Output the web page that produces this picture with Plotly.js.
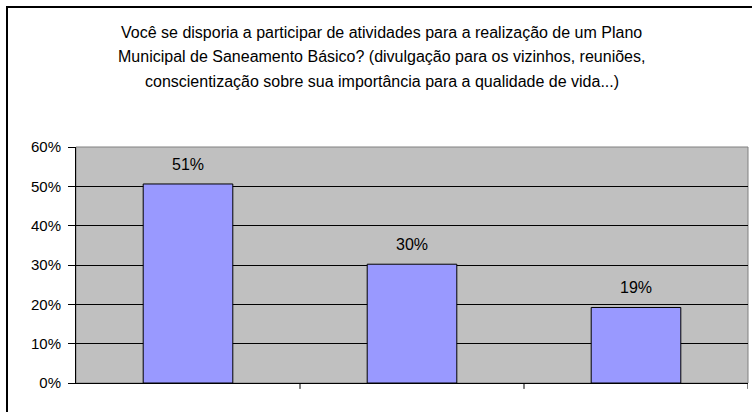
<!DOCTYPE html>
<html><head><meta charset="utf-8">
<script src="https://cdn.plot.ly/plotly-3.0.1.min.js"></script>
<style>body{margin:0;background:#fff}#c{width:752px;height:412px}</style>
</head><body><div id="c"></div>
<script>
const categories = ['Sim', 'Não', 'Talvez'];
const values = [0.506, 0.302, 0.192];
const labels = ['51%', '30%', '19%'];
const yTicks = [0, 0.1, 0.2, 0.3, 0.4, 0.5, 0.6];
const yTickText = ['0%', '10%', '20%', '30%', '40%', '50%', '60%'];
const titleLines = [
  'Você se disporia a participar de atividades para a realização de um Plano',
  'Municipal de Saneamento Básico? (divulgação para os vizinhos, reuniões,',
  'conscientização sobre sua importância para a qualidade de vida...)'
];
const titleLineY = [1.487, 1.383, 1.278];

const FONT = 'Liberation Sans, Arial';
const trace = {
  type: 'bar', x: categories, y: values, width: 0.4,
  marker: {color: '#9999FF', line: {color: '#000', width: 1}},
  hoverinfo: 'skip'
};
const annotations = categories.map((c, i) => ({
  x: c, y: values[i], xref: 'x', yref: 'y', text: labels[i], showarrow: false,
  yanchor: 'bottom', yshift: 9, font: {family: FONT, size: 16, color: '#000'}
})).concat(titleLines.map((t, i) => ({
  x: 0.455, y: titleLineY[i], xref: 'paper', yref: 'paper', text: t, showarrow: false,
  xanchor: 'center', yanchor: 'middle', font: {family: FONT, size: 16, color: '#000'}
})));
const layout = {
  width: 752, height: 412,
  margin: {l: 76, r: 4, t: 147, b: 29},
  paper_bgcolor: '#fff', plot_bgcolor: '#C0C0C0',
  font: {family: FONT, size: 15, color: '#000'},
  showlegend: false, bargap: 0.6,
  xaxis: {showticklabels: false, showgrid: false, zeroline: false,
          showline: true, linecolor: '#000', linewidth: 1,
          ticks: '', range: [-0.5, 2.5]},
  yaxis: {range: [0, 0.6], tickvals: yTicks, ticktext: yTickText,
          showgrid: true, gridcolor: '#000', gridwidth: 1, zeroline: false,
          showline: true, linecolor: '#000', linewidth: 1,
          ticks: 'outside', ticklen: 7, tickcolor: '#000', ticklabelstandoff: 4,
          tickfont: {family: FONT, size: 15, color: '#000'}},
  annotations: annotations,
  shapes: [
    {type: 'rect', xref: 'paper', yref: 'paper', x0: 0, x1: 1, y0: 0, y1: 1,
     line: {color: '#808080', width: 1}, layer: 'below'},
    {type: 'line', xref: 'x', yref: 'paper', x0: 0.5, x1: 0.5, y0: 0, y1: -0.025, line: {color: '#000', width: 1}},
    {type: 'line', xref: 'x', yref: 'paper', x0: 1.5, x1: 1.5, y0: 0, y1: -0.025, line: {color: '#000', width: 1}},
    {type: 'line', xref: 'x', yref: 'paper', x0: 2.5, x1: 2.5, y0: 0, y1: -0.025, line: {color: '#000', width: 1}}
  ]
};
Plotly.newPlot('c', [trace], layout, {displayModeBar: false, staticPlot: true}).then(() => {
  const svg = document.querySelector('#c svg.main-svg');
  const r = document.createElementNS('http://www.w3.org/2000/svg', 'rect');
  r.setAttribute('x', 7); r.setAttribute('y', 7); r.setAttribute('width', 760); r.setAttribute('height', 420);
  r.setAttribute('fill', 'none'); r.setAttribute('stroke', '#000'); r.setAttribute('stroke-width', 2);
  svg.appendChild(r);
});
</script></body></html>
